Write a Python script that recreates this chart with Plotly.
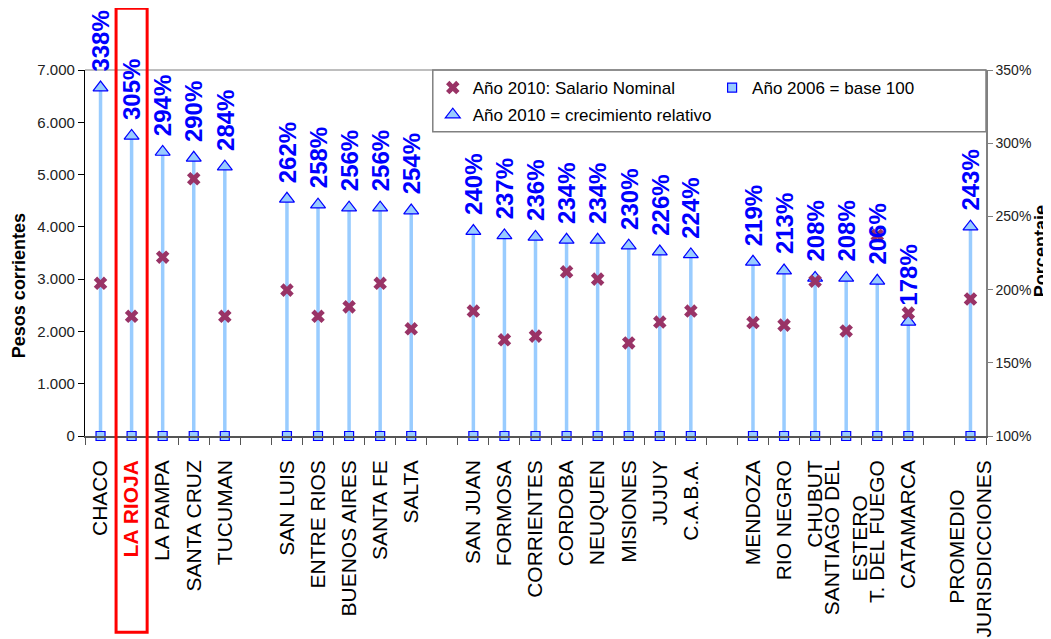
import plotly.graph_objects as go

# ---------------- data ----------------
NB = "\u00a0"
categories = [
    "CHACO", "LA RIOJA", "LA PAMPA", "SANTA CRUZ", "TUCUMAN", "",
    "SAN LUIS", "ENTRE RIOS", "BUENOS AIRES", "SANTA FE", "SALTA", "",
    "SAN JUAN", "FORMOSA", "CORRIENTES", "CORDOBA", "NEUQUEN", "MISIONES", "JUJUY", "C.A.B.A.", "",
    "MENDOZA", "RIO NEGRO", "CHUBUT", "SANTIAGO DEL<br>ESTERO" + NB * 6, "T. DEL FUEGO", "CATAMARCA", "",
    "PROMEDIO" + NB * 5 + "<br>JURISDICCIONES",
]
salario_nominal_2010 = [
    2920, 2290, 3420, 4920, 2290, None,
    2790, 2290, 2470, 2920, 2050, None,
    2390, 1840, 1910, 3140, 3000, 1780, 2180, 2390, None,
    2170, 2120, 2960, 2010, 3840, 2350, None,
    2620,
]
crecimiento_2010 = [
    338, 305, 294, 290, 284, None,
    262, 258, 256, 256, 254, None,
    240, 237, 236, 234, 234, 230, 226, 224, None,
    219, 213, 208, 208, 206, 178, None,
    243,
]
base_2006 = [
    100, 100, 100, 100, 100, None,
    100, 100, 100, 100, 100, None,
    100, 100, 100, 100, 100, 100, 100, 100, None,
    100, 100, 100, 100, 100, 100, None,
    100,
]
highlight = "LA RIOJA"

name_salario = "Año 2010: Salario Nominal"
name_base = "Año 2006 = base 100"
name_crec = "Año 2010 = crecimiento relativo"

FONT = "Arial, Liberation Sans, sans-serif"

# ---------------- derived ----------------
idx = [i for i, c in enumerate(categories) if c]
cats = [categories[i] for i in idx]
sal = [salario_nominal_2010[i] for i in idx]
cre = [crecimiento_2010[i] for i in idx]
bas = [base_2006[i] for i in idx]
ticktext = [
    f"<b><span style='color:#FF0000'>{c}</span></b>" if c == highlight else c
    for c in cats
]

fig = go.Figure()

# growth triangles with stems from the 2006 base
fig.add_trace(go.Scatter(
    x=idx, y=cre, mode="markers", name=name_crec,
    yaxis="y", legend="legend", legendgroup="c", legendrank=2,
    marker=dict(symbol="triangle-up", size=13, color="#99CCFF",
                line=dict(color="#0000FF", width=1.2)),
    error_y=dict(type="data", symmetric=False,
                 array=[0] * len(cre), arrayminus=[c - b for c, b in zip(cre, bas)],
                 color="#99CCFF", thickness=3.5, width=0),
    hoverinfo="skip",
))
# 2006 base squares
fig.add_trace(go.Scatter(
    x=idx, y=bas, mode="markers", name=name_base,
    yaxis="y", legend="legend2",
    marker=dict(symbol="square", size=9, color="#99CCFF",
                line=dict(color="#0000FF", width=1.2)),
    cliponaxis=False,
    hoverinfo="skip",
))
# 2010 nominal salary
fig.add_trace(go.Scatter(
    x=idx, y=sal, mode="markers", name=name_salario,
    yaxis="y2", legend="legend", legendgroup="a", legendrank=1,
    marker=dict(symbol="x", size=12, color="#993366", line=dict(width=0)),
    hoverinfo="skip",
))

# percentage labels
for i, c in zip(idx, cre):
    fig.add_annotation(
        x=i, y=c, xref="x", yref="y", text=f"{c}%", textangle=-90,
        xanchor="center", yanchor="bottom", yshift=14, showarrow=False,
        font=dict(family=FONT, size=24, color="#0000FF", weight="bold"),
    )

# axis titles
fig.add_annotation(
    x=-0.073, y=0.41, xref="paper", yref="paper", text="Pesos corrientes",
    textangle=-90, showarrow=False, xanchor="center", yanchor="middle",
    font=dict(family=FONT, size=18, color="#000000", weight="bold"),
)
fig.add_annotation(
    x=1.061, y=0.505, xref="paper", yref="paper", text="Porcentaje",
    textangle=-90, showarrow=False, xanchor="center", yanchor="middle",
    font=dict(family=FONT, size=18, color="#000000", weight="bold"),
)

# top border of plot area
fig.add_shape(type="line", xref="paper", yref="paper", x0=0, x1=1, y0=1, y1=1,
              line=dict(color="#A8A8A8", width=1.5), layer="below")
# legend box
fig.add_shape(type="rect", xref="paper", yref="paper", x0=0.386, x1=1.0, y0=0.831, y1=1.0,
              line=dict(color="#808080", width=1.5), fillcolor="rgba(0,0,0,0)", layer="below")
# highlight box around LA RIOJA
hi = idx[cats.index(highlight)]
fig.add_shape(type="rect", xref="x", yref="paper", x0=hi - 0.5, x1=hi + 0.5,
              y0=-0.536, y1=1.169, line=dict(color="#FF0000", width=3),
              fillcolor="rgba(0,0,0,0)", layer="above")

fig.update_layout(
    width=1043, height=631,
    template="none",
    paper_bgcolor="white", plot_bgcolor="white",
    margin=dict(l=77, r=65, t=62, b=203),
    separators=",.",
    font=dict(family=FONT, color="#000000"),
    showlegend=True,
    xaxis=dict(
        range=[-0.5, len(categories) - 0.5], tickmode="array",
        tickvals=idx, ticktext=ticktext, tickangle=-90,
        tickfont=dict(family=FONT, size=21, color="#000000"),
        ticks="", showgrid=False, zeroline=False,
        showline=True, linecolor="#555555", linewidth=1.5,
        ticklabelstandoff=14, automargin=False,
        minor=dict(tickmode="array", tickvals=[k - 0.5 for k in range(len(categories) + 1)],
                   ticks="outside", ticklen=7, tickcolor="#555555", tickwidth=1, showgrid=False),
    ),
    yaxis=dict(
        range=[100, 350], dtick=50, ticksuffix="%", side="right",
        showgrid=False, zeroline=False, showline=True, linecolor="#808080", linewidth=1.5,
        ticks="outside", ticklen=5, tickcolor="#808080",
        tickfont=dict(family=FONT, size=14, color="#222222"), automargin=False,
    ),
    yaxis2=dict(
        range=[0, 7000], dtick=1000, tickformat=",d", side="left", overlaying="y",
        showgrid=False, zeroline=False, showline=True, linecolor="#000000", linewidth=1.2,
        ticks="outside", ticklen=6, tickcolor="#000000",
        tickfont=dict(family=FONT, size=15, color="#222222"), automargin=False,
    ),
    legend=dict(
        x=0.386, y=1.0, xanchor="left", yanchor="top", bgcolor="rgba(0,0,0,0)",
        borderwidth=0, font=dict(family=FONT, size=17, color="#000000"),
        traceorder="grouped", tracegroupgap=2, itemwidth=30,
    ),
    legend2=dict(
        x=0.696, y=1.0, xanchor="left", yanchor="top", bgcolor="rgba(0,0,0,0)",
        borderwidth=0, font=dict(family=FONT, size=17, color="#000000"), itemwidth=30,
    ),
)

fig.write_html("out.html")
